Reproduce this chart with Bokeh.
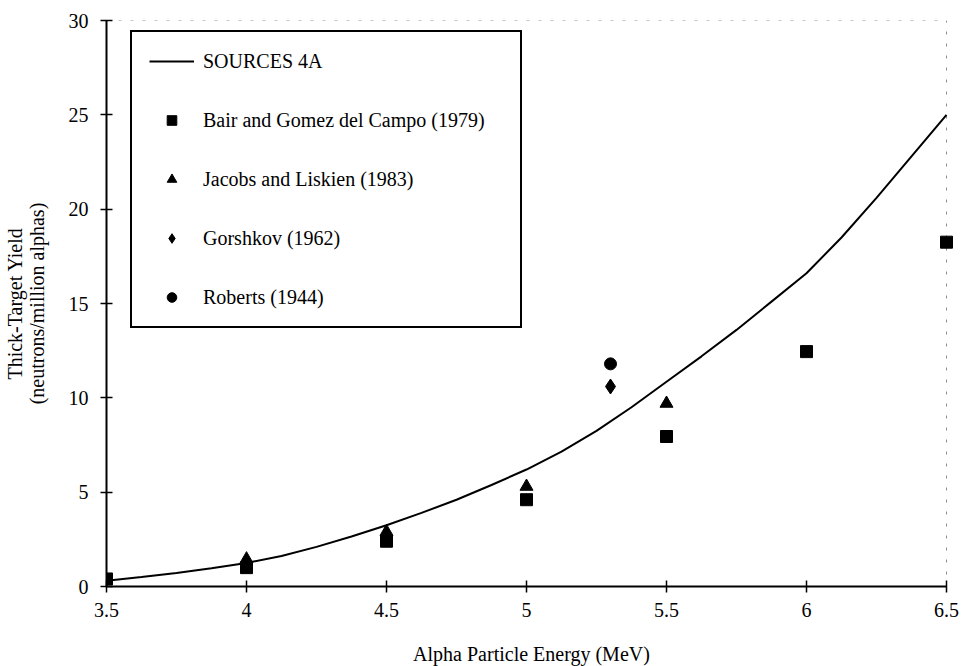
from bokeh.plotting import figure
from bokeh.models import Range1d, Legend, LegendItem, FixedTicker
from bokeh.embed import file_html
from bokeh.resources import INLINE

# ---- data ----
curve_energy = [3.5, 3.625, 3.75, 3.875, 4.0, 4.125, 4.25, 4.375, 4.5, 4.625, 4.75, 4.875,
                5.0, 5.125, 5.25, 5.375, 5.5, 5.625, 5.75, 5.875, 6.0, 6.125, 6.25, 6.375, 6.5]
curve_yield = [0.30, 0.50, 0.72, 0.97, 1.25, 1.62, 2.10, 2.65, 3.25, 3.90, 4.60, 5.38,
               6.20, 7.15, 8.25, 9.50, 10.85, 12.2, 13.6, 15.1, 16.6, 18.5, 20.6, 22.8, 25.0]

bair_energy = [3.5, 4.0, 4.5, 5.0, 5.5, 6.0, 6.5]
bair_yield = [0.4, 1.0, 2.4, 4.6, 7.95, 12.45, 18.25]

jacobs_energy = [4.0, 4.5, 5.0, 5.5]
jacobs_yield = [1.45, 2.9, 5.3, 9.7]

gorshkov_energy = [5.3]
gorshkov_yield = [10.6]

roberts_energy = [5.3]
roberts_yield = [11.8]

x_ticks = [3.5, 4.0, 4.5, 5.0, 5.5, 6.0, 6.5]
x_tick_labels = ["3.5", "4", "4.5", "5", "5.5", "6", "6.5"]
y_ticks = [0, 5, 10, 15, 20, 25, 30]

series_names = ["SOURCES 4A", "Bair and Gomez del Campo (1979)", "Jacobs and Liskien (1983)",
                "Gorshkov (1962)", "Roberts (1944)"]

FONT = "Liberation Serif"

# layout (pixels)
PX_PER_X = 280.0          # px per MeV
PAD_R = 10                # room so the right-edge marker is not clipped
FRAME_W = int(PX_PER_X * (x_ticks[-1] - x_ticks[0])) + PAD_R
FRAME_H = 566

p = figure(frame_width=FRAME_W, frame_height=FRAME_H,
           min_border_left=100, min_border_right=6, min_border_top=20, min_border_bottom=79,
           x_range=Range1d(x_ticks[0], x_ticks[-1] + PAD_R / PX_PER_X),
           y_range=Range1d(y_ticks[0], y_ticks[-1]),
           output_backend="svg", toolbar_location=None, tools="")

p.background_fill_color = "white"
p.border_fill_color = "white"
p.grid.visible = False
p.outline_line_color = None

for ax in (p.xaxis[0], p.yaxis[0]):
    ax.axis_line_width = 2
    ax.major_tick_line_width = 1.5
    ax.major_tick_in = 6
    ax.major_tick_out = 6
    ax.minor_tick_line_color = None
    ax.major_label_text_font = FONT
    ax.major_label_text_font_size = "20px"
    ax.major_label_text_color = "black"
    ax.axis_label_text_font = FONT
    ax.axis_label_text_font_size = "20px"
    ax.axis_label_text_font_style = "normal"
    ax.axis_label_text_color = "black"

p.xaxis.ticker = FixedTicker(ticks=x_ticks)
p.xaxis.bounds = (x_ticks[0], x_ticks[-1])
p.xaxis.major_label_overrides = {t: l for t, l in zip(x_ticks, x_tick_labels)}
p.xaxis.major_label_standoff = 10
p.xaxis.axis_label = "Alpha Particle Energy (MeV)"
p.xaxis.axis_label_standoff = 23

p.yaxis.ticker = FixedTicker(ticks=y_ticks)
p.yaxis.major_label_standoff = 12
p.yaxis.axis_label = "Thick-Target Yield\n(neutrons/million alphas)"
p.yaxis.axis_label_standoff = 18
p.yaxis.axis_label_text_line_height = 1.0

# faint dashed frame edges (top and right) as in the scanned original
p.line([x_ticks[0], x_ticks[-1]], [y_ticks[-1], y_ticks[-1]],
       line_color="black", line_width=1, line_dash="3 9", line_alpha=0.45)
p.line([x_ticks[-1], x_ticks[-1]], [y_ticks[0], y_ticks[-1]],
       line_color="black", line_width=1, line_dash="3 9", line_alpha=0.45)

r_curve = p.line(curve_energy, curve_yield, line_color="black", line_width=2)
r_bair = p.scatter(bair_energy, bair_yield, marker="square", size=12,
                   fill_color="black", line_color="black")
r_jacobs = p.scatter(jacobs_energy, jacobs_yield, marker="triangle", size=13,
                     fill_color="black", line_color="black")
r_gorshkov = p.scatter(gorshkov_energy, gorshkov_yield, marker="diamond", size=15,
                       fill_color="black", line_color="black")
r_roberts = p.scatter(roberts_energy, roberts_yield, marker="circle", size=12,
                      fill_color="black", line_color="black")

renderers = [r_curve, r_bair, r_jacobs, r_gorshkov, r_roberts]
legend = Legend(items=[LegendItem(label=n, renderers=[r]) for n, r in zip(series_names, renderers)],
                location=(24, 258), orientation="vertical",
                border_line_color="black", border_line_width=2, border_line_alpha=1.0,
                background_fill_color="white", background_fill_alpha=1.0,
                padding=17, spacing=35, margin=0,
                glyph_width=45, glyph_height=24, label_height=24, label_width=300,
                label_standoff=9,
                label_text_font=FONT, label_text_font_size="20px", label_text_color="black")
p.add_layout(legend, "center")

open("out.html", "w").write(file_html(p, INLINE))
